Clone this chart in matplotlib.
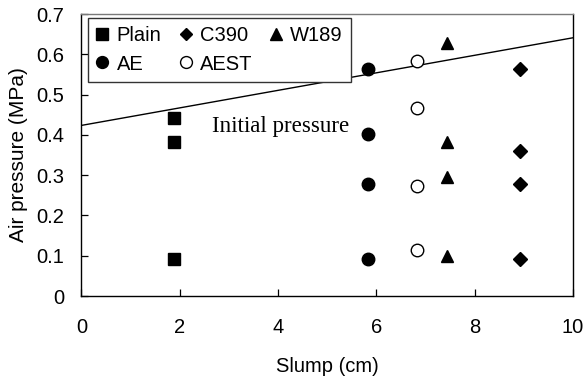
import matplotlib
matplotlib.use("Agg")
import matplotlib.pyplot as plt

plain_x = [1.89, 1.89, 1.89]
plain_y = [0.443, 0.382, 0.091]
ae_x = [5.82, 5.82, 5.82, 5.82]
ae_y = [0.5625, 0.402, 0.277, 0.093]
aest_x = [6.82, 6.82, 6.82, 6.82]
aest_y = [0.583, 0.466, 0.273, 0.114]
w189_x = [7.43, 7.43, 7.43, 7.43]
w189_y = [0.629, 0.383, 0.296, 0.100]
c390_x = [8.92, 8.92, 8.92, 8.92]
c390_y = [0.5625, 0.36, 0.277, 0.091]
line_x = [0, 10]
line_y = [0.4235, 0.641]

plt.rcParams['font.family'] = ['Liberation Sans', 'DejaVu Sans']

fig = plt.figure(figsize=(5.86, 3.76), dpi=100)
L, R, B, T = 81.5, 573, 296, 14
ax = fig.add_axes([L/586, 1-B/376, (R-L)/586, (B-T)/376])

ax.plot(line_x, line_y, color='black', lw=1.0)
h_plain, = ax.plot(plain_x, plain_y, 's', color='black', ms=8.8, ls='none', label='Plain')
h_ae, = ax.plot(ae_x, ae_y, 'o', color='black', ms=9, ls='none', label='AE')
h_c390, = ax.plot(c390_x, c390_y, 'D', color='black', ms=6.7, ls='none', label='C390')
h_aest, = ax.plot(aest_x, aest_y, 'o', mfc='white', mec='black', mew=1.0, ms=9, ls='none', label='AEST')
h_w189, = ax.plot(w189_x, w189_y, '^', color='black', ms=9.2, ls='none', label='W189')

ax.text(2.65, 0.408, 'Initial pressure', family='Liberation Serif', fontsize=16.6, va='baseline', ha='left')

ax.set_xlim(0, 10)
ax.set_ylim(0, 0.7)
ax.set_xticks([0, 2, 4, 6, 8, 10])
ax.set_xticklabels(['0', '2', '4', '6', '8', '10'])
ax.set_yticks([0, 0.1, 0.2, 0.3, 0.4, 0.5, 0.6, 0.7])
ax.set_yticklabels(['0', '0.1', '0.2', '0.3', '0.4', '0.5', '0.6', '0.7'])
ax.tick_params(direction='in', labelsize=14.5, length=5, width=0.9)
ax.tick_params(axis='y', pad=12.5)
ax.tick_params(axis='x', pad=16)
ax.spines['top'].set_color('#7a7a7a')
for s in ['left', 'right', 'bottom', 'top']:
    ax.spines[s].set_linewidth(1.0)
ax.set_xlabel('Slump (cm)', fontsize=14.5, labelpad=14)
ax.set_ylabel('Air pressure (MPa)', fontsize=15, labelpad=6)

fx = (88 - L) / (R - L)
fy = 1 - (18 - T) / (B - T)
leg = ax.legend(handles=[h_plain, h_ae, h_c390, h_aest, h_w189], ncol=3, loc='upper left',
                bbox_to_anchor=(fx, fy), fontsize=14.5, frameon=True, fancybox=False,
                edgecolor='#333333', framealpha=1, handlelength=0.6, handletextpad=0.4,
                columnspacing=0.9, labelspacing=0.45, borderpad=0.42, borderaxespad=0,
                markerscale=0.95)
leg.get_frame().set_linewidth(1.0)

fig.savefig('out.png', dpi=100)
